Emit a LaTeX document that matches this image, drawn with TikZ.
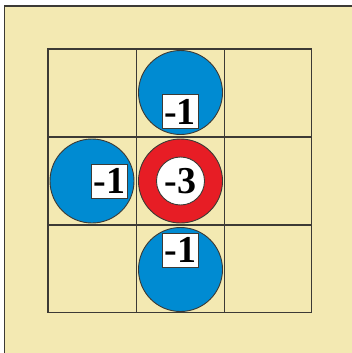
\documentclass[tikz,border=0pt]{standalone}
\usepackage{fontspec}
\setmainfont{Liberation Serif}
\definecolor{beige}{HTML}{F3E9B2}
\definecolor{bluec}{HTML}{008BD2}
\definecolor{redc}{HTML}{E71D25}
\definecolor{edge}{HTML}{3C3A35}
\tikzset{
  disc/.style={circle, draw=edge, line width=0.9pt, fill=bluec, minimum size=84pt, inner sep=0pt},
  reddisc/.style={circle, draw=edge, line width=0.9pt, fill=redc, minimum size=84pt, inner sep=0pt},
  labelbox/.style={draw=edge, line width=0.9pt, fill=white, minimum width=36pt, minimum height=34pt, inner sep=0pt,
    font=\fontsize{38}{38}\selectfont\bfseries},
  whitedisc/.style={circle, draw=edge, line width=0.9pt, fill=white, minimum size=48pt, inner sep=0pt,
    font=\fontsize{38}{38}\selectfont\bfseries},
}
\begin{document}
\begin{tikzpicture}[x=1pt,y=-1pt]
\useasboundingbox (0,0) rectangle (352,353);
\fill[white] (0,0) rectangle (352,353);
\fill[beige] (4.5,6) rectangle (352,353);
\draw[edge, line width=1.6pt] (4.5,353) -- (4.5,6) -- (352,6);
% grid
\draw[edge, line width=1.1pt] (136.5,49) -- (136.5,312.5) (224.5,49) -- (224.5,312.5)
  (48,137) -- (311.5,137) (48,225) -- (311.5,225);
\draw[edge, line width=1.7pt] (48,49) rectangle (311.5,312.5);
% discs
\node[disc] (top) at (180.5,92.5) {};
\node[disc] (left) at (92,181) {};
\node[disc] (bottom) at (180.5,269.5) {};
\node[reddisc] (center) at (180.5,181) {};
\node[whitedisc] (inner) at (center) {-3};
% labels
\node[labelbox] (ltop) at (180,111.5) {-1};
\node[labelbox] (lleft) at (109.3,181.2) {-1};
\node[labelbox] (lbottom) at (180.3,250) {-1};
\end{tikzpicture}
\end{document}
